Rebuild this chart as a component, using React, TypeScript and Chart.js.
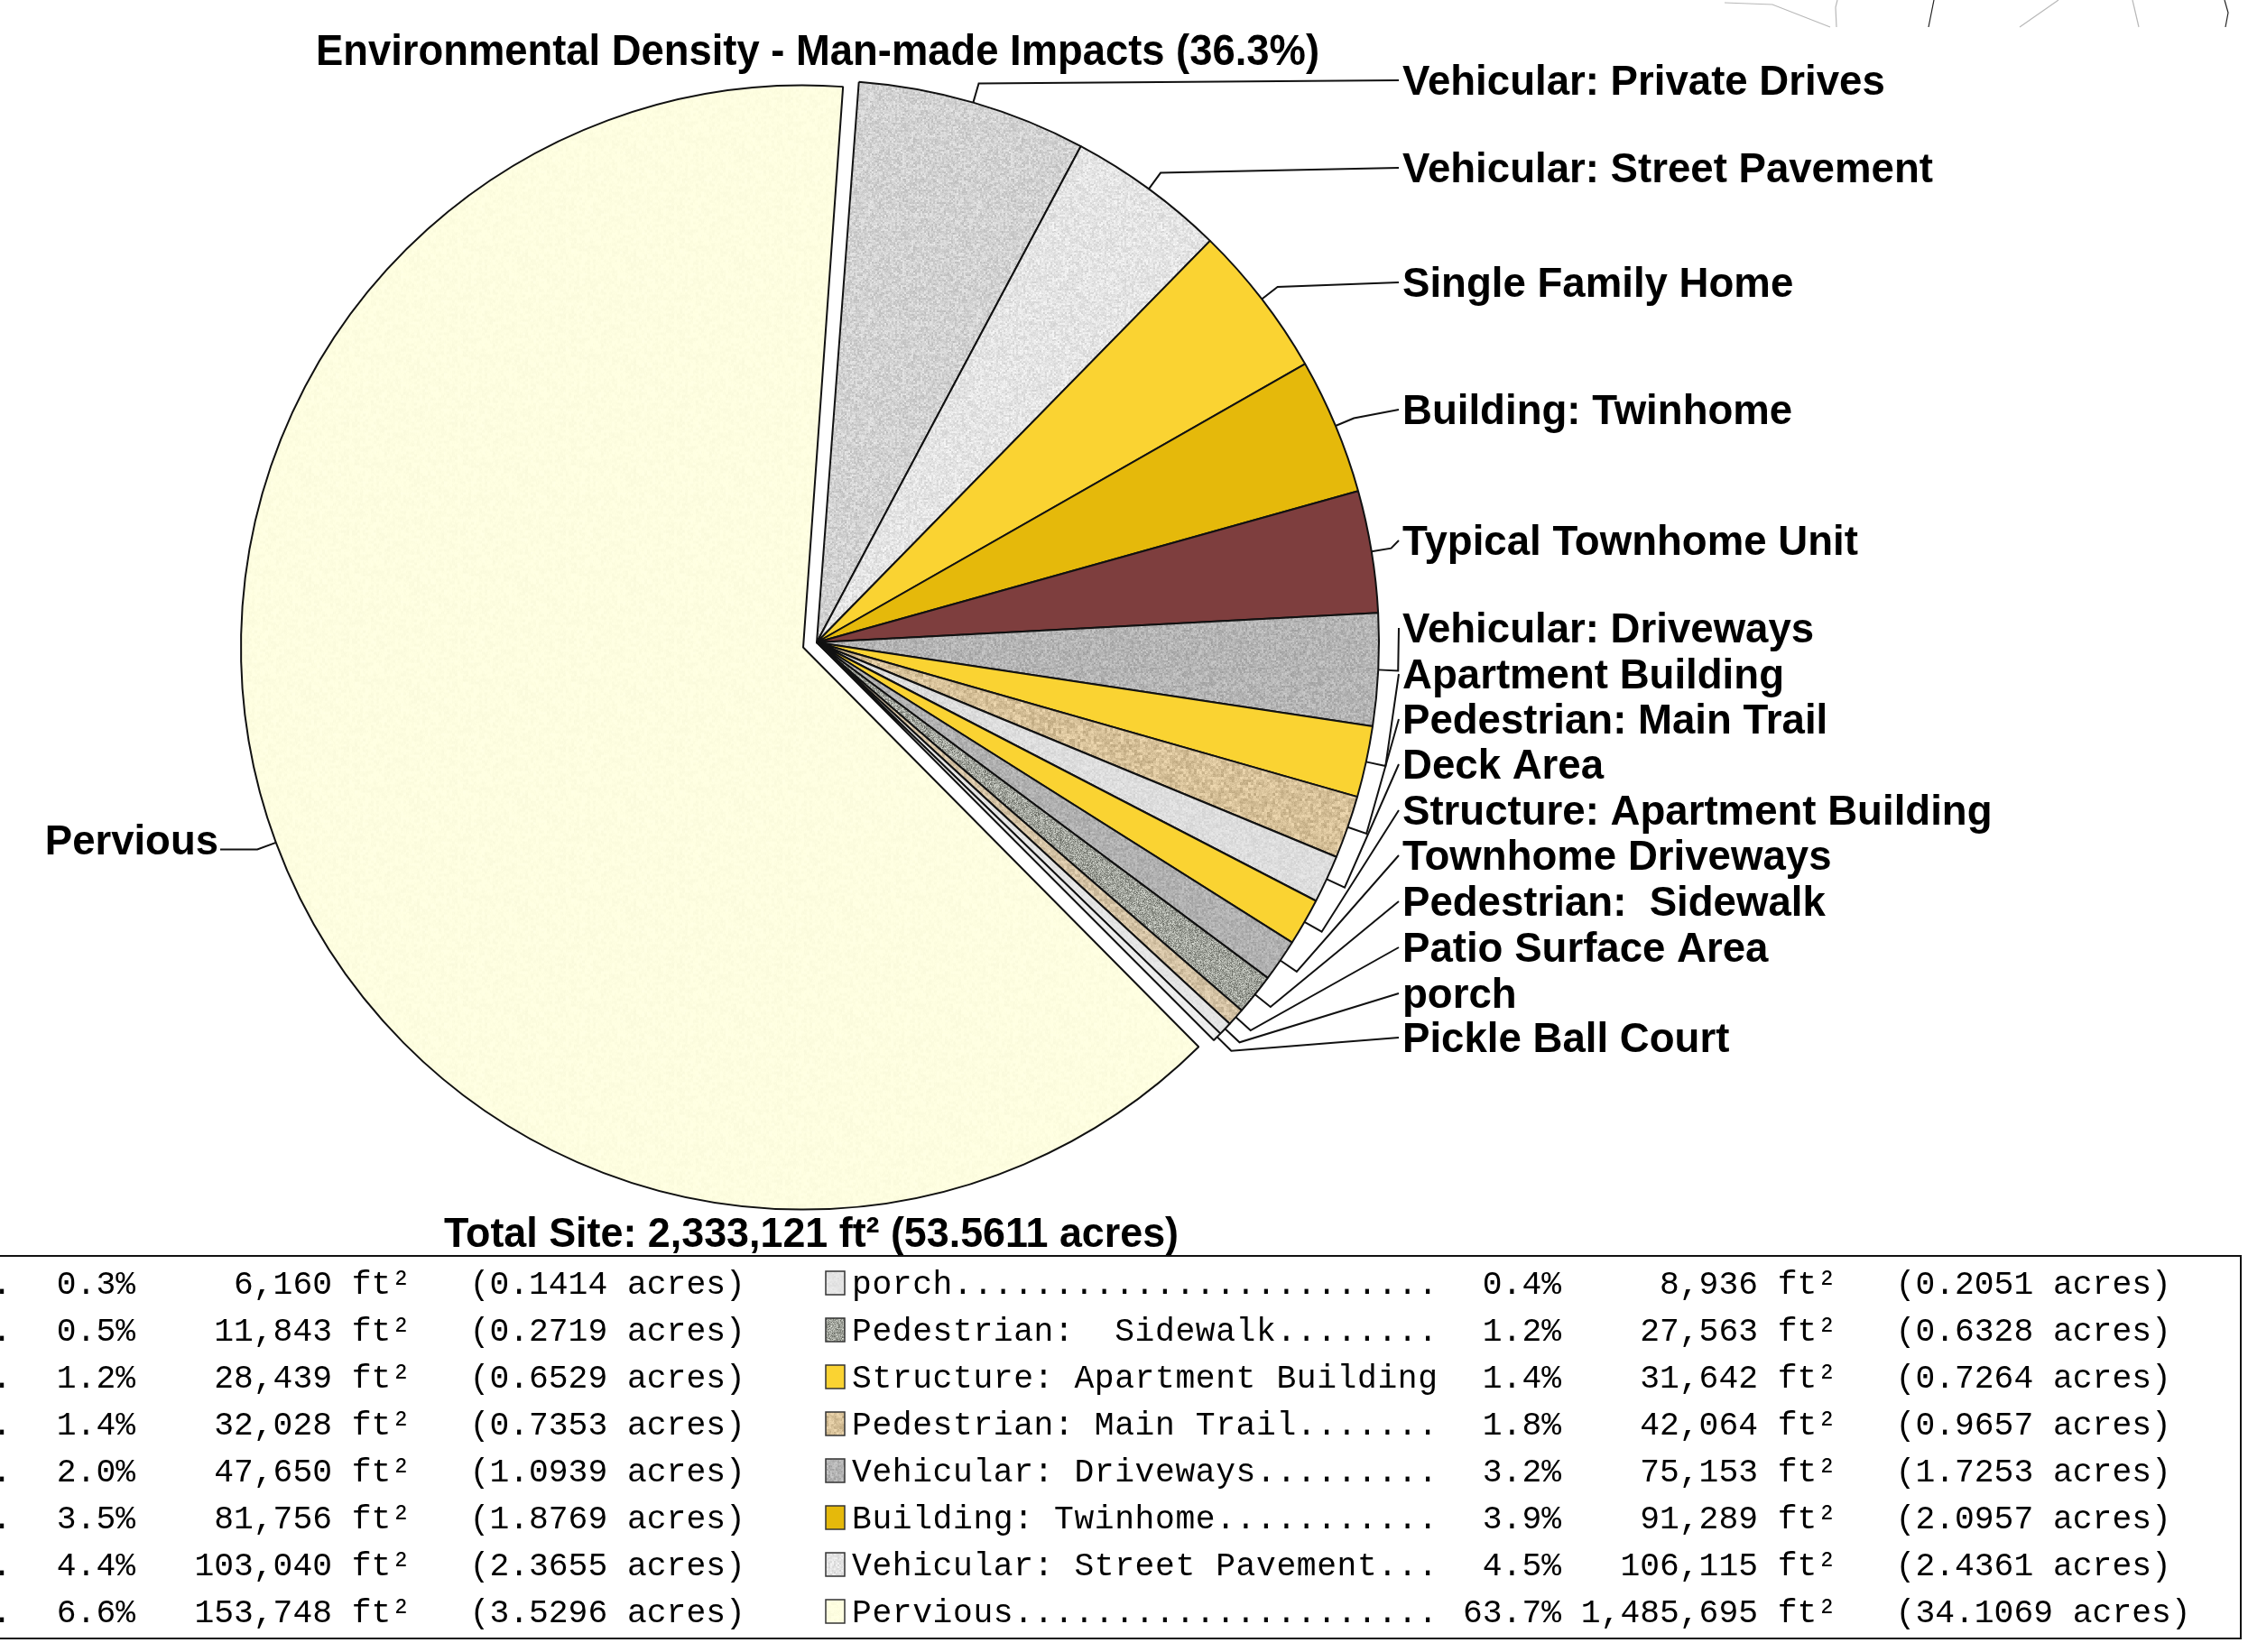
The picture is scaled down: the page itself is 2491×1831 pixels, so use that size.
import React, { useEffect, useRef } from "react";
import { Chart, registerables } from "chart.js";

Chart.register(...registerables);

// ---------------- DATA ----------------
const categories: string[] = [
  "Vehicular: Private Drives",
  "Vehicular: Street Pavement",
  "Single Family Home",
  "Building: Twinhome",
  "Typical Townhome Unit",
  "Vehicular: Driveways",
  "Apartment Building",
  "Pedestrian: Main Trail",
  "Deck Area",
  "Structure: Apartment Building",
  "Townhome Driveways",
  "Pedestrian:  Sidewalk",
  "Patio Surface Area",
  "porch",
  "Pickle Ball Court",
  "Pervious",
];

const areaSqFt: number[] = [
  153748, 106115, 103040, 91289, 81756, 75153, 47650, 42064, 32028, 31642,
  28439, 27563, 11843, 8936, 6160, 1485695,
];

const SQFT_PER_ACRE = 43560;

// ---------------- STYLE / LAYOUT ----------------
const sliceColors: string[] = [
  "#d2d2d2", // private drives
  "#e4e4e4", // street pavement
  "#fad332", // single family home
  "#e5b90b", // twinhome
  "#7e3e3e", // townhome unit
  "#b4b4b4", // vehicular driveways
  "#fad332", // apartment building
  "#d6c098", // main trail
  "#dddddd", // deck area
  "#fad332", // structure apartment
  "#b0b0b0", // townhome driveways
  "#a0a39b", // sidewalk
  "#d4c2a4", // patio
  "#e4e4e4", // porch
  "#eeeeee", // pickle ball
  "#fefee0", // pervious
];
// texture amplitude / grain per slice (0 = flat colour)
const textureAmp: number[] = [26, 22, 0, 0, 0, 26, 0, 30, 14, 0, 22, 70, 26, 8, 6, 5];
const textureGrain: number[] = [2, 2, 1, 1, 1, 2, 1, 3, 2, 1, 2, 1, 3, 2, 2, 3];
const sliceOffsets: number[] = [0, 0, 0, 0, 0, 0, 0, 0, 0, 0, 0, 0, 0, 0, 0, 64];

const W = 2491;
const H = 1831;
const PIE_CX = 905;
const PIE_CY = 712;
const PIE_R = 623;
const PIE_ROTATION = 4.3;

const LABEL_X = 1554;
const labelYs: number[] = [89, 186, 313, 454, 599, 696, 747, 797, 847, 898, 948, 999, 1050, 1101, 1150];
const PERVIOUS_LABEL_RIGHT = 242;
const PERVIOUS_LABEL_Y = 931;

const TABLE_TOP = 1392;
const TABLE_BOTTOM = 1816;
const TABLE_RIGHT = 2483;
const ROW0_Y = 1422;
const ROW_STEP = 52;
const GROUP_X0 = [41, 1621]; // x of the percent field in the left / right table column
const NUM_CELL_W = 21.8;
const NAME_CELL_W = 22.4;
const NAME_GAP = 677; // distance from name start to percent field

const fmt = (n: number) => n.toLocaleString("en-US");

function hash2(x: number, y: number, s: number) {
  let n = Math.imul(x, 374761393) + Math.imul(y, 668265263) + Math.imul(s, 1442695041);
  n = Math.imul(n ^ (n >>> 13), 1274126177);
  n = n ^ (n >>> 16);
  return (n >>> 0) / 4294967296;
}

function makeTexture(base: string, amp: number, grain: number, seed: number): CanvasPattern | string {
  if (!amp) return base;
  const size = 120;
  const c = document.createElement("canvas");
  c.width = size;
  c.height = size;
  const g = c.getContext("2d");
  if (!g) return base;
  g.fillStyle = base;
  g.fillRect(0, 0, size, size);
  const img = g.getImageData(0, 0, size, size);
  const d = img.data;
  for (let y = 0; y < size; y++) {
    for (let x = 0; x < size; x++) {
      const gx = Math.floor(x / grain);
      const gy = Math.floor(y / grain);
      const h = (hash2(gx, gy, seed) + hash2(x, y, seed + 7) * 0.5) / 1.5;
      const delta = (h - 0.5) * amp * 2;
      const k = (y * size + x) * 4;
      d[k] = Math.max(0, Math.min(255, d[k] + delta));
      d[k + 1] = Math.max(0, Math.min(255, d[k + 1] + delta));
      d[k + 2] = Math.max(0, Math.min(255, d[k + 2] + delta));
    }
  }
  g.putImageData(img, 0, 0);
  return g.createPattern(c, "repeat") || base;
}

function fitText(
  ctx: CanvasRenderingContext2D,
  text: string,
  x: number,
  y: number,
  font: string,
  align: CanvasTextAlign,
  targetW?: number
) {
  ctx.save();
  ctx.font = font;
  const w = ctx.measureText(text).width;
  const sx = targetW ? targetW / w : 1;
  ctx.translate(x, y);
  ctx.scale(sx, 1);
  ctx.textAlign = align;
  ctx.textBaseline = "alphabetic";
  ctx.fillStyle = "#000";
  ctx.fillText(text, 0, 0);
  ctx.restore();
}

function makeOverlayPlugin(fills: (CanvasPattern | string)[]) {
  return {
    id: "overlay",
    afterDatasetUpdate(chart: any) {
      const meta = chart.getDatasetMeta(0);
      meta.data.forEach((arc: any, i: number) => {
        const off = (sliceOffsets[i] || 0) / 4;
        const circ = arc.endAngle - arc.startAngle;
        const fix = 1 - Math.sin(Math.min(Math.PI, circ));
        arc.outerRadius = PIE_R - off * fix;
      });
    },
    afterDraw(chart: any) {
      const ctx: CanvasRenderingContext2D = chart.ctx;
      const meta = chart.getDatasetMeta(0);
      const total = areaSqFt.reduce((a, b) => a + b, 0);
      const pervIdx = categories.length - 1;
      const impactPct = ((total - areaSqFt[pervIdx]) / total) * 100;

      // faint artifact lines at the top right
      ctx.save();
      ctx.lineWidth = 1.2;
      ctx.strokeStyle = "#b8b8b8";
      const grayLines = [
        [[1911, 3], [1964, 5], [2028, 30]],
        [[2036, 0], [2034, 8], [2035, 30]],
        [[2281, 0], [2238, 30]],
        [[2363, 0], [2370, 30]],
      ];
      grayLines.forEach((pl) => {
        ctx.beginPath();
        pl.forEach(([x, y], k) => (k ? ctx.lineTo(x, y) : ctx.moveTo(x, y)));
        ctx.stroke();
      });
      ctx.strokeStyle = "#222";
      [[[2143, 0], [2137, 30]], [[2465, 0], [2469, 14], [2466, 30]]].forEach((pl) => {
        ctx.beginPath();
        pl.forEach(([x, y], k) => (k ? ctx.lineTo(x, y) : ctx.moveTo(x, y)));
        ctx.stroke();
      });
      ctx.restore();

      // title
      fitText(
        ctx,
        `Environmental Density - Man-made Impacts (${impactPct.toFixed(1)}%)`,
        906,
        72,
        "bold 48px 'Liberation Sans', Arial, sans-serif",
        "center",
        1112
      );

      // leader lines + labels
      ctx.save();
      ctx.strokeStyle = "#111";
      ctx.lineWidth = 2;
      meta.data.forEach((arc: any, i: number) => {
        const mid = (arc.startAngle + arc.endAngle) / 2;
        const off = (sliceOffsets[i] || 0) / 4;
        const cx = arc.x + Math.cos(mid) * off;
        const cy = arc.y + Math.sin(mid) * off;
        const R = PIE_R;
        const px = cx + Math.cos(mid) * R;
        const py = cy + Math.sin(mid) * R;
        const ex = cx + Math.cos(mid) * (R + 22);
        const ey = cy + Math.sin(mid) * (R + 22);
        ctx.beginPath();
        ctx.moveTo(px, py);
        ctx.lineTo(ex, ey);
        if (i === pervIdx) {
          ctx.lineTo(PERVIOUS_LABEL_RIGHT + 2, ey);
        } else {
          ctx.lineTo(LABEL_X - 4, labelYs[i]);
        }
        ctx.stroke();
      });
      ctx.restore();

      categories.forEach((name, i) => {
        if (i === pervIdx) {
          fitText(ctx, name, PERVIOUS_LABEL_RIGHT, PERVIOUS_LABEL_Y + 16, "bold 45.5px 'Liberation Sans', Arial, sans-serif", "right");
        } else {
          fitText(ctx, name, LABEL_X, labelYs[i] + 16, "bold 45.6px 'Liberation Sans', Arial, sans-serif", "left");
        }
      });

      // footer
      fitText(
        ctx,
        `Total Site: ${fmt(total)} ft² (${(total / SQFT_PER_ACRE).toFixed(4)} acres)`,
        899,
        1382,
        "bold 46px 'Liberation Sans', Arial, sans-serif",
        "center",
        814
      );

      // table frame
      ctx.save();
      ctx.strokeStyle = "#111";
      ctx.lineWidth = 2;
      ctx.beginPath();
      ctx.moveTo(0, TABLE_TOP);
      ctx.lineTo(TABLE_RIGHT, TABLE_TOP);
      ctx.lineTo(TABLE_RIGHT, TABLE_BOTTOM);
      ctx.lineTo(0, TABLE_BOTTOM);
      ctx.stroke();
      ctx.restore();

      const order = categories.map((_, i) => i).sort((a, b) => areaSqFt[a] - areaSqFt[b]);
      const monoFont = "36.3px 'Liberation Mono', 'DejaVu Sans Mono', monospace";
      order.forEach((idx, k) => {
        const row = Math.floor(k / 2);
        const x0 = GROUP_X0[k % 2];
        const y = ROW0_Y + row * ROW_STEP;
        const v = areaSqFt[idx];
        let name = categories[idx];
        while (name.length < 29) name += ".";
        const pct = ((v / total) * 100).toFixed(1) + "%";
        const nums =
          pct.padStart(5, " ") +
          " " +
          fmt(v).padStart(9, " ") +
          " ft²   (" +
          (v / SQFT_PER_ACRE).toFixed(4) +
          " acres)";
        const nameX = x0 - NAME_GAP;
        ctx.save();
        // swatch
        ctx.fillStyle = fills[idx];
        ctx.strokeStyle = "#333";
        ctx.lineWidth = 1.5;
        ctx.fillRect(nameX - 29, y - 13, 21, 26);
        ctx.strokeRect(nameX - 29, y - 13, 21, 26);
        ctx.font = monoFont;
        ctx.textAlign = "left";
        ctx.textBaseline = "middle";
        ctx.fillStyle = "#000";
        for (let c = 0; c < name.length; c++) {
          ctx.fillText(name[c], nameX + c * NAME_CELL_W, y + 2);
        }
        for (let c = 0; c < nums.length; c++) {
          ctx.fillText(nums[c], x0 + c * NUM_CELL_W, y + 2);
        }
        ctx.restore();
      });
    },
  };
}

export default function App() {
  const canvasRef = useRef<HTMLCanvasElement | null>(null);

  useEffect(() => {
    const canvas = canvasRef.current;
    if (!canvas) return;
    const fills = sliceColors.map((c, i) => makeTexture(c, textureAmp[i], textureGrain[i], i + 1));
    const half = 700;
    const chart = new Chart(canvas, {
      type: "pie",
      data: {
        labels: categories,
        datasets: [
          {
            data: areaSqFt,
            backgroundColor: fills as any,
            borderColor: "#111",
            borderWidth: 2,
            offset: sliceOffsets,
          },
        ],
      },
      options: {
        responsive: false,
        maintainAspectRatio: false,
        animation: false,
        rotation: PIE_ROTATION,
        radius: PIE_R,
        layout: {
          padding: {
            left: PIE_CX - half,
            top: PIE_CY - half,
            right: W - (PIE_CX + half),
            bottom: H - (PIE_CY + half),
          },
        },
        plugins: {
          legend: { display: false },
          tooltip: { enabled: false },
          title: { display: false },
        },
        events: [],
      },
      plugins: [makeOverlayPlugin(fills)],
    });
    return () => chart.destroy();
  }, []);

  return (
    <div style={{ position: "absolute", left: 0, top: 0, width: W, height: H, background: "#fff" }}>
      <canvas ref={canvasRef} width={W} height={H} style={{ display: "block", width: W, height: H }} />
    </div>
  );
}
